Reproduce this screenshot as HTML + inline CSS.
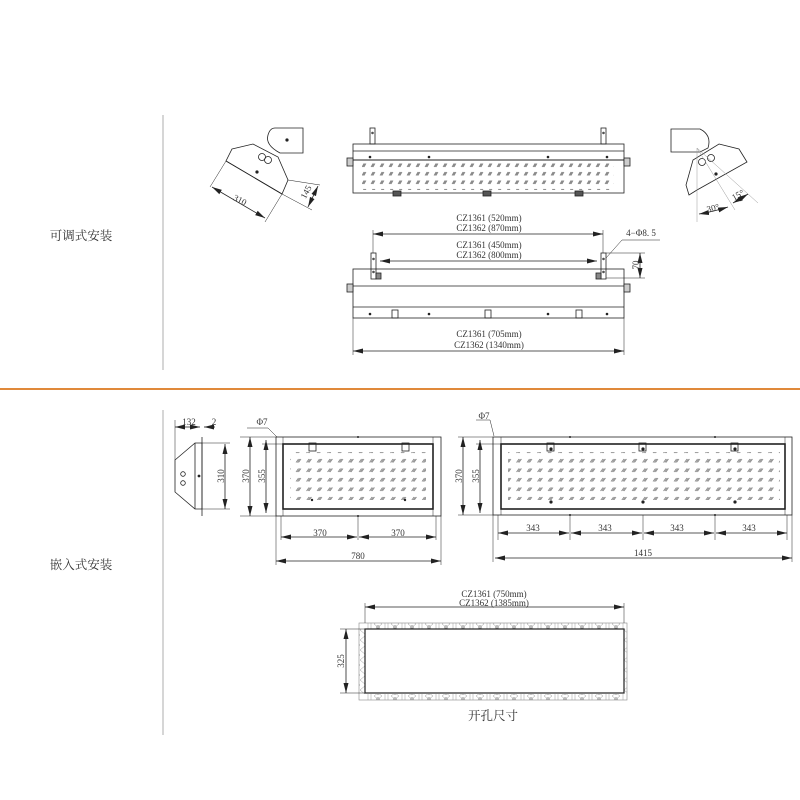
<!DOCTYPE html>
<html><head><meta charset="utf-8"><style>
html,body{margin:0;padding:0;background:#fff;}
svg{display:block;}
text{font-family:"Liberation Serif","Noto Serif CJK SC",serif;fill:#333;}
.cjk{font-family:"Liberation Serif","Noto Serif CJK SC","Noto Sans CJK SC",serif;}
</style></head><body>
<svg width="800" height="800" viewBox="0 0 800 800" xmlns="http://www.w3.org/2000/svg">
<defs>
<marker id="a" markerWidth="10" markerHeight="6" refX="0" refY="3" orient="auto" markerUnits="userSpaceOnUse">
<path d="M0,3 L10,0.5 L10,5.5 Z" fill="#222"/></marker>
<marker id="b" markerWidth="10" markerHeight="6" refX="10" refY="3" orient="auto" markerUnits="userSpaceOnUse">
<path d="M10,3 L0,0.5 L0,5.5 Z" fill="#222"/></marker>
<pattern id="perf" width="9" height="8.5" patternUnits="userSpaceOnUse">
<path d="M2,5.5 L4,2 M4,5.5 L6,2 M3,5.5 L5,2" stroke="#888" stroke-width="0.8"/></pattern>
<pattern id="perf2" width="10.5" height="9.5" patternUnits="userSpaceOnUse">
<path d="M2,6.5 L4.5,3 M4.5,6.5 L7,3 M3.3,6.5 L5.8,3" stroke="#888" stroke-width="0.8"/></pattern>
<pattern id="hatch" width="17" height="6" patternUnits="userSpaceOnUse">
<path d="M0,0 L8,6 M8,0 L0,6 M11,0 V6 M14,0 V6" stroke="#999" stroke-width="0.5" fill="none"/><circle cx="4" cy="3" r="1.3" fill="none" stroke="#666" stroke-width="0.5"/></pattern>
<pattern id="hatchv" width="6" height="10" patternUnits="userSpaceOnUse">
<path d="M0,0 L6,5 L0,10" stroke="#999" stroke-width="0.5" fill="none"/></pattern>
</defs>
<g fill="none" stroke="#222" stroke-width="0.8">
<line x1="163" y1="115" x2="163" y2="370" stroke="#bbb" stroke-width="1.2"/>
<line x1="163" y1="410" x2="163" y2="735" stroke="#bbb" stroke-width="1.2"/>
<line x1="0" y1="389" x2="800" y2="389" stroke="#e0893a" stroke-width="2"/>

<path d="M275,128 L303,128 L303,153 L280,153 Q265,145 268,135 Q270,128 275,128 Z"/>
<circle cx="287" cy="140" r="1.2" fill="#222"/>
<path d="M232,149 L253,144 L278,157 L288,180 L282,194 L226,161 Z" fill="#fff"/>
<line x1="226" y1="161" x2="282" y2="194"/>
<circle cx="262" cy="157" r="3.5"/><circle cx="268" cy="160" r="3.5"/>
<circle cx="257" cy="172" r="1.2" fill="#222"/>
<line x1="226" y1="161" x2="210" y2="187" stroke-width="0.5"/>
<line x1="282" y1="194" x2="265" y2="222" stroke-width="0.5"/>
<line x1="212" y1="187" x2="265" y2="218" marker-start="url(#a)" marker-end="url(#b)"/>
<line x1="288" y1="180" x2="320" y2="185" stroke-width="0.5"/>
<line x1="282" y1="194" x2="312" y2="210" stroke-width="0.5"/>
<line x1="318" y1="186" x2="308" y2="207" marker-start="url(#a)" marker-end="url(#b)"/>

<rect x="353" y="144" width="271" height="49" fill="#fff"/>
<line x1="353" y1="151" x2="624" y2="151"/>
<line x1="353" y1="160" x2="624" y2="160" stroke-width="1"/>
<rect x="362" y="162" width="252" height="28" fill="url(#perf)" stroke="none"/>
<rect x="370" y="128" width="5" height="16"/><rect x="601" y="128" width="5" height="16"/>
<circle cx="372.5" cy="133" r="0.8"/><circle cx="603.5" cy="133" r="0.8"/>
<rect x="347" y="158" width="6" height="8" fill="#ccc"/><rect x="624" y="158" width="6" height="8" fill="#ccc"/>
<rect x="393" y="191" width="8" height="5" fill="#555"/><rect x="483" y="191" width="8" height="5" fill="#555"/><rect x="575" y="191" width="8" height="5" fill="#555"/>
<g fill="#222" stroke="none"><circle cx="370" cy="157" r="1.3"/><circle cx="429" cy="157" r="1.3"/><circle cx="548" cy="157" r="1.3"/><circle cx="607" cy="157" r="1.3"/></g>

<path d="M671,129 L700,129 Q712,135 708,148 L700,152 L671,152 Z"/>
<path d="M719,144 L739,149 L747,162 L697,190 L689,195 L686,185 L693,160 Z" fill="#fff"/>
<circle cx="702" cy="162" r="3.5"/><circle cx="711" cy="158" r="3.5"/>
<circle cx="716" cy="174" r="1.2" fill="#222"/>
<g stroke="#999" stroke-width="0.5"><line x1="697" y1="148" x2="697" y2="222"/><line x1="697" y1="148" x2="735" y2="210"/><line x1="697" y1="148" x2="758" y2="203"/></g>
<path d="M699,214 Q712,212 728,207" marker-start="url(#a)" marker-end="url(#b)"/>
<path d="M733,203 Q740,199 748,194" marker-start="url(#a)" marker-end="url(#b)"/>

<rect x="353" y="269" width="271" height="49" fill="#fff"/>
<line x1="353" y1="286" x2="624" y2="286"/>
<line x1="353" y1="307" x2="624" y2="307"/>
<rect x="371" y="253" width="5" height="26"/><rect x="601" y="253" width="5" height="26"/>
<circle cx="373.5" cy="259" r="0.8"/><circle cx="603.5" cy="259" r="0.8"/><circle cx="373.5" cy="272" r="0.8"/><circle cx="603.5" cy="272" r="0.8"/>
<rect x="376" y="273" width="5" height="6" fill="#888"/><rect x="596" y="273" width="5" height="6" fill="#888"/>
<rect x="347" y="284" width="6" height="8" fill="#ccc"/><rect x="624" y="284" width="6" height="8" fill="#ccc"/>
<rect x="392" y="310" width="6" height="8"/><rect x="485" y="310" width="6" height="8"/><rect x="576" y="310" width="6" height="8"/>
<g fill="#222" stroke="none"><circle cx="370" cy="314" r="1.3"/><circle cx="429" cy="314" r="1.3"/><circle cx="548" cy="314" r="1.3"/><circle cx="607" cy="314" r="1.3"/></g>
<g stroke-width="0.5"><line x1="373" y1="230" x2="373" y2="253"/><line x1="603" y1="230" x2="603" y2="253"/>
<line x1="353" y1="318" x2="353" y2="355"/><line x1="624" y1="318" x2="624" y2="355"/>
<line x1="606" y1="253" x2="645" y2="253"/><line x1="606" y1="278" x2="645" y2="278"/>
<path d="M606,258 L622,240 L660,240"/></g>
<line x1="373" y1="234" x2="603" y2="234" marker-start="url(#a)" marker-end="url(#b)"/>
<line x1="380" y1="261" x2="597" y2="261" marker-start="url(#a)" marker-end="url(#b)"/>
<line x1="353" y1="351" x2="624" y2="351" marker-start="url(#a)" marker-end="url(#b)"/>
<line x1="640" y1="253" x2="640" y2="278" marker-start="url(#a)" marker-end="url(#b)"/>

<line x1="202" y1="437" x2="202" y2="516"/>
<path d="M195,443 L175,460 L175,492 L195,509 L202,509 L202,443 Z"/>
<line x1="195" y1="443" x2="195" y2="509"/>
<circle cx="183" cy="474" r="2.3"/><circle cx="183" cy="483" r="2.3"/><circle cx="199" cy="476" r="1" fill="#222"/>
<g stroke-width="0.5"><line x1="175" y1="420" x2="175" y2="460"/><line x1="202" y1="443" x2="230" y2="443"/><line x1="202" y1="509" x2="230" y2="509"/></g>
<line x1="175" y1="427" x2="200" y2="427" marker-start="url(#a)" marker-end="url(#b)"/>
<line x1="215" y1="427" x2="204" y2="427" marker-end="url(#b)"/>
<line x1="225" y1="444" x2="225" y2="509" marker-start="url(#a)" marker-end="url(#b)"/>

<rect x="276" y="437" width="165" height="79" fill="#fff"/>
<rect x="283" y="444" width="150" height="65" stroke-width="1.6"/>
<line x1="283" y1="437" x2="283" y2="516" stroke-width="0.5"/><line x1="433" y1="437" x2="433" y2="516" stroke-width="0.5"/>
<rect x="290" y="452" width="136" height="48" fill="url(#perf2)" stroke="none"/>
<rect x="309" y="443" width="7" height="8"/><rect x="402" y="443" width="7" height="8"/>
<g fill="#222" stroke="none"><circle cx="312" cy="500" r="1.2"/><circle cx="405" cy="500" r="1.2"/><circle cx="358" cy="437" r="1"/><circle cx="358" cy="516" r="1"/></g>
<g stroke-width="0.5"><line x1="240" y1="437" x2="276" y2="437"/><line x1="240" y1="516" x2="276" y2="516"/><line x1="262" y1="444" x2="283" y2="444"/>
<line x1="276" y1="516" x2="276" y2="565"/><line x1="441" y1="516" x2="441" y2="565"/><line x1="358" y1="516" x2="358" y2="540"/><line x1="281" y1="516" x2="281" y2="540"/><line x1="436" y1="516" x2="436" y2="540"/>
<path d="M247,428 L268,428 L277,437"/></g>
<line x1="250" y1="437" x2="250" y2="516" marker-start="url(#a)" marker-end="url(#b)"/>
<line x1="266" y1="440" x2="266" y2="513" marker-start="url(#a)" marker-end="url(#b)"/>
<line x1="281" y1="537" x2="357" y2="537" marker-start="url(#a)" marker-end="url(#b)"/>
<line x1="359" y1="537" x2="436" y2="537" marker-start="url(#a)" marker-end="url(#b)"/>
<line x1="276" y1="561" x2="441" y2="561" marker-start="url(#a)" marker-end="url(#b)"/>

<rect x="493" y="437" width="299" height="78" fill="#fff"/>
<rect x="501" y="444" width="284" height="65" stroke-width="1.6"/>
<line x1="501" y1="437" x2="501" y2="515" stroke-width="0.5"/><line x1="785" y1="437" x2="785" y2="515" stroke-width="0.5"/>
<rect x="508" y="452" width="272" height="48" fill="url(#perf2)" stroke="none"/>
<rect x="547" y="443" width="7" height="8"/><rect x="639" y="443" width="7" height="8"/><rect x="731" y="443" width="7" height="8"/>
<g fill="#222" stroke="none"><circle cx="551" cy="449" r="1.6"/><circle cx="643" cy="449" r="1.6"/><circle cx="735" cy="449" r="1.6"/>
<circle cx="551" cy="502" r="1.6"/><circle cx="643" cy="502" r="1.6"/><circle cx="735" cy="502" r="1.6"/>
<circle cx="570" cy="437" r="1"/><circle cx="715" cy="437" r="1"/><circle cx="570" cy="515" r="1"/><circle cx="715" cy="515" r="1"/></g>
<g stroke-width="0.5"><line x1="458" y1="437" x2="493" y2="437"/><line x1="458" y1="515" x2="493" y2="515"/><line x1="476" y1="444" x2="501" y2="444"/>
<line x1="493" y1="515" x2="493" y2="562"/><line x1="792" y1="515" x2="792" y2="562"/>
<line x1="498" y1="515" x2="498" y2="540"/><line x1="570" y1="515" x2="570" y2="540"/><line x1="643" y1="515" x2="643" y2="540"/><line x1="715" y1="515" x2="715" y2="540"/><line x1="787" y1="515" x2="787" y2="540"/>
<path d="M476,420 L490,420 L494,436"/></g>
<line x1="463" y1="437" x2="463" y2="515" marker-start="url(#a)" marker-end="url(#b)"/>
<line x1="480" y1="440" x2="480" y2="513" marker-start="url(#a)" marker-end="url(#b)"/>
<line x1="498" y1="533" x2="569" y2="533" marker-start="url(#a)" marker-end="url(#b)"/>
<line x1="571" y1="533" x2="642" y2="533" marker-start="url(#a)" marker-end="url(#b)"/>
<line x1="644" y1="533" x2="714" y2="533" marker-start="url(#a)" marker-end="url(#b)"/>
<line x1="716" y1="533" x2="787" y2="533" marker-start="url(#a)" marker-end="url(#b)"/>
<line x1="495" y1="558" x2="792" y2="558" marker-start="url(#a)" marker-end="url(#b)"/>

<rect x="359" y="623" width="268" height="77" fill="#fff" stroke="#888" stroke-width="0.6"/>
<rect x="365" y="623" width="259" height="6" fill="url(#hatch)" stroke="none"/>
<rect x="365" y="694" width="259" height="6" fill="url(#hatch)" stroke="none"/>
<rect x="359" y="629" width="6" height="65" fill="url(#hatchv)" stroke="none"/>
<rect x="624" y="629" width="3" height="65" fill="url(#hatchv)" stroke="none"/>
<rect x="365" y="629" width="259" height="64" stroke-width="1.2"/>
<g stroke-width="0.5"><line x1="365" y1="603" x2="365" y2="623"/><line x1="624" y1="603" x2="624" y2="623"/>
<line x1="340" y1="629" x2="365" y2="629"/><line x1="340" y1="693" x2="365" y2="693"/></g>
<line x1="365" y1="607" x2="624" y2="607" marker-start="url(#a)" marker-end="url(#b)"/>
<line x1="346" y1="629" x2="346" y2="693" marker-start="url(#a)" marker-end="url(#b)"/>
</g>

<g font-size="9" text-anchor="middle">
<text x="240" y="203" transform="rotate(27 240 200)">310</text>
<text x="306" y="195" transform="rotate(-62 306 192)">145</text>
<text x="713" y="211" transform="rotate(-15 713 208)">30°</text>
<text x="738" y="198" transform="rotate(-30 738 195)">15°</text>
<text x="489" y="221">CZ1361 (520mm)</text>
<text x="489" y="231">CZ1362 (870mm)</text>
<text x="489" y="248">CZ1361 (450mm)</text>
<text x="489" y="258">CZ1362 (800mm)</text>
<text x="641" y="236">4−Φ8. 5</text>
<text x="636" y="268" transform="rotate(-90 636 265)">70</text>
<text x="489" y="337">CZ1361 (705mm)</text>
<text x="489" y="348">CZ1362 (1340mm)</text>
<text x="189" y="425">132</text>
<text x="214" y="425">2</text>
<text x="221" y="479" transform="rotate(-90 221 476)">310</text>
<text x="262" y="425">Φ7</text>
<text x="246" y="479" transform="rotate(-90 246 476)">370</text>
<text x="262" y="479" transform="rotate(-90 262 476)">355</text>
<text x="320" y="536">370</text>
<text x="398" y="536">370</text>
<text x="358" y="559">780</text>
<text x="484" y="419">Φ7</text>
<text x="459" y="479" transform="rotate(-90 459 476)">370</text>
<text x="476" y="479" transform="rotate(-90 476 476)">355</text>
<text x="533" y="531">343</text>
<text x="605" y="531">343</text>
<text x="677" y="531">343</text>
<text x="749" y="531">343</text>
<text x="643" y="556">1415</text>
<text x="494" y="597">CZ1361 (750mm)</text>
<text x="494" y="606">CZ1362 (1385mm)</text>
<text x="341" y="664" transform="rotate(-90 341 661)">325</text>
</g>
<text x="81" y="240" font-size="12.5" text-anchor="middle" class="cjk">可调式安装</text>
<text x="81" y="569" font-size="12.5" text-anchor="middle" class="cjk">嵌入式安装</text>
<text x="493" y="720" font-size="12.5" text-anchor="middle" class="cjk">开孔尺寸</text>
</svg>
</body></html>
